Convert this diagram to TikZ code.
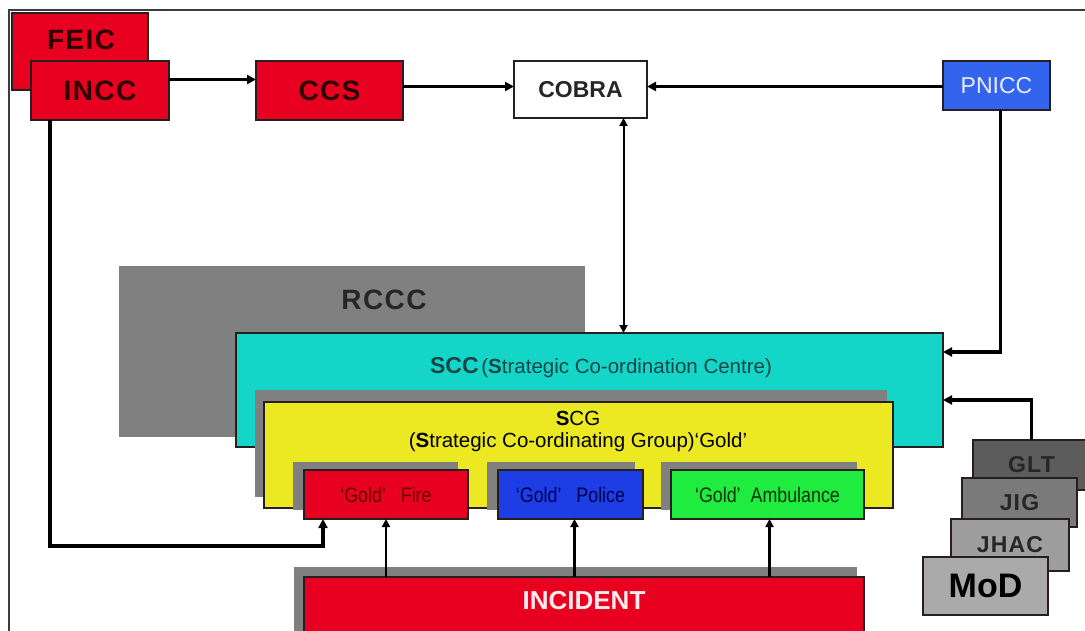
\documentclass[tikz,border=0pt]{standalone}
\usepackage{fontspec}
\setmainfont{Liberation Sans}
\newfontfamily\narrowfont[FakeStretch=0.85]{Liberation Sans}
\newfontfamily\widefont[LetterSpace=5]{Liberation Sans}
\usetikzlibrary{arrows.meta}
\definecolor{boxred}{RGB}{232,0,32}
\definecolor{boxline}{RGB}{40,30,30}
\definecolor{pnblue}{RGB}{50,100,238}
\definecolor{polblue}{RGB}{28,62,228}
\definecolor{ambgreen}{RGB}{32,236,64}
\definecolor{scgyellow}{RGB}{236,232,34}
\definecolor{scccyan}{RGB}{20,214,200}
\definecolor{shadowgray}{RGB}{128,128,128}
\definecolor{txtred}{RGB}{45,0,0}
\definecolor{scctxt}{RGB}{20,70,70}
\definecolor{gltgray}{RGB}{92,92,92}
\definecolor{jiggray}{RGB}{122,122,122}
\definecolor{jhacgray}{RGB}{158,158,158}
\definecolor{modgray}{RGB}{170,170,170}
\definecolor{framegray}{RGB}{60,60,60}
\begin{document}
\begin{tikzpicture}[x=1pt,y=-1pt,
  box/.style={draw=boxline, line width=1.2pt, inner sep=0pt, outer sep=0pt, anchor=north west, align=center},
  big/.style={font=\widefont\fontsize{28}{32}\selectfont\bfseries},
  stacktxt/.style={font=\widefont\fontsize{23}{27}\selectfont\bfseries, text=black!85},
  goldtxt/.style={font=\narrowfont\fontsize{21}{25}\selectfont},
  thick conn/.style={line width=3.5pt, -{Triangle[length=9pt,width=9pt]}},
  mid conn/.style={line width=2.4pt, -{Triangle[length=9pt,width=9pt]}},
  thin conn/.style={line width=2.2pt, -{Triangle[length=8pt,width=8pt]}},
  both conn/.style={line width=2pt, {Triangle[length=8pt,width=8pt]}-{Triangle[length=8pt,width=8pt]}}]
\path[use as bounding box, clip] (0,0) rectangle (1085,631);
\fill[white] (0,0) rectangle (1085,631);
\draw[line width=1.5pt, framegray] (9,640) -- (9,10) -- (1090,10);

% top row
\node[box, fill=boxred, minimum width=136pt, minimum height=77pt] (feic) at (12,13) {};
\node[big, text=txtred] (feictxt) at (81,40) {FEIC};
\node[box, fill=boxred, minimum width=138pt, minimum height=59pt, big, text=txtred] (incc) at (31,61) {INCC};
\node[box, fill=boxred, minimum width=147pt, minimum height=59pt, big, text=txtred] (ccs) at (256,61) {CCS};
\node[box, fill=white, minimum width=133pt, minimum height=57pt, font=\fontsize{23}{27}\selectfont\bfseries, text=black!85] (cobra) at (514,61) {COBRA};
\node[box, fill=pnblue, minimum width=107pt, minimum height=49pt, font=\fontsize{23}{27}\selectfont, text=white!92!blue] (pnicc) at (943,61) {PNICC};

% RCCC
\node[box, draw=none, fill=shadowgray, minimum width=466pt, minimum height=171pt] (rccc) at (119,266) {};
\node[big, text=black!85] (rccctxt) at (384,300) {RCCC};

% SCC
\node[box, fill=scccyan, minimum width=707pt, minimum height=114pt] (scc) at (236,333) {};
\node[text=scctxt] (scctxt) at (601,368) {{\fontsize{23}{27}\selectfont\bfseries SCC} {\fontsize{20.5}{24}\selectfont (\textbf{S}trategic Co-ordination Centre)}};

% SCG
\fill[shadowgray] (255,390) rectangle (887,497);
\node[box, fill=scgyellow, minimum width=629pt, minimum height=106pt] (scg) at (264,402) {};
\node[align=center, font=\fontsize{20.5}{22}\selectfont, text=black] (scgtxt) at (578,431) {\textbf{S}CG\\(\textbf{S}trategic Co-ordinating Group)‘Gold’};

% Gold boxes
\fill[shadowgray] (293,462) rectangle (458,510);
\node[box, fill=boxred, minimum width=164pt, minimum height=49pt, goldtxt, text=red!40!black] (fire) at (304,470) {‘Gold’\ \ \ Fire};
\fill[shadowgray] (487,462) rectangle (635,510);
\node[box, fill=polblue, minimum width=145pt, minimum height=49pt, goldtxt, text=blue!30!black] (police) at (498,470) {‘Gold’\ \ \ Police};
\fill[shadowgray] (661,462) rectangle (857,510);
\node[box, fill=ambgreen, minimum width=193pt, minimum height=49pt, goldtxt, text=green!20!black] (amb) at (671,470) {‘Gold’\ \ Ambulance};

% INCIDENT
\fill[shadowgray] (294,567) rectangle (857,640);
\node[box, fill=boxred, minimum width=560pt, minimum height=80pt] (incident) at (304,577) {};
\node[font=\fontsize{26}{30}\selectfont\bfseries, text=white!92!red] (incidenttxt) at (584,601) {INCIDENT};

% stacked grey boxes
\node[box, fill=gltgray, minimum width=125pt, minimum height=50pt, stacktxt] (glt) at (973,440) {\hspace*{-8pt}GLT};
\node[box, fill=jiggray, minimum width=115pt, minimum height=49pt, stacktxt] (jig) at (962,478) {JIG};
\node[box, fill=jhacgray, minimum width=118pt, minimum height=52pt, stacktxt] (jhac) at (951,519) {JHAC};
\node[box, fill=modgray, minimum width=125pt, minimum height=58pt, font=\fontsize{34}{38}\selectfont\bfseries, text=black] (mod) at (923,557) {MoD};

% connectors
\draw[mid conn] ([yshift=11pt]incc.east) -- ([yshift=11pt]incc.east -| ccs.west);
\draw[mid conn] ([yshift=4pt]ccs.east) -- ([yshift=4pt]ccs.east -| cobra.west);
\draw[mid conn] ([yshift=-1pt]pnicc.west) -- ([yshift=-1pt]pnicc.west -| cobra.east);
\draw[both conn] ([xshift=43pt]cobra.south) -- ([xshift=43pt]cobra.south |- scc.north);
\draw[thick conn] ([xshift=4pt]pnicc.south) |- ([yshift=-19pt]scc.north east);
\draw[thick conn] ([xshift=-4pt]glt.north) |- ([yshift=-67pt]scc.north east);
\draw[thick conn] ([xshift=-50pt]incc.south) |- ([xshift=19pt,yshift=-27pt]fire.south west) -- ([xshift=19pt]fire.south west);
\draw[thin conn] (fire.south |- incident.north) -- (fire.south);
\draw[thin conn] ([xshift=4pt]police.south |- incident.north) -- ([xshift=4pt]police.south);
\draw[thin conn] ([xshift=2pt]amb.south |- incident.north) -- ([xshift=2pt]amb.south);
\end{tikzpicture}
\end{document}
